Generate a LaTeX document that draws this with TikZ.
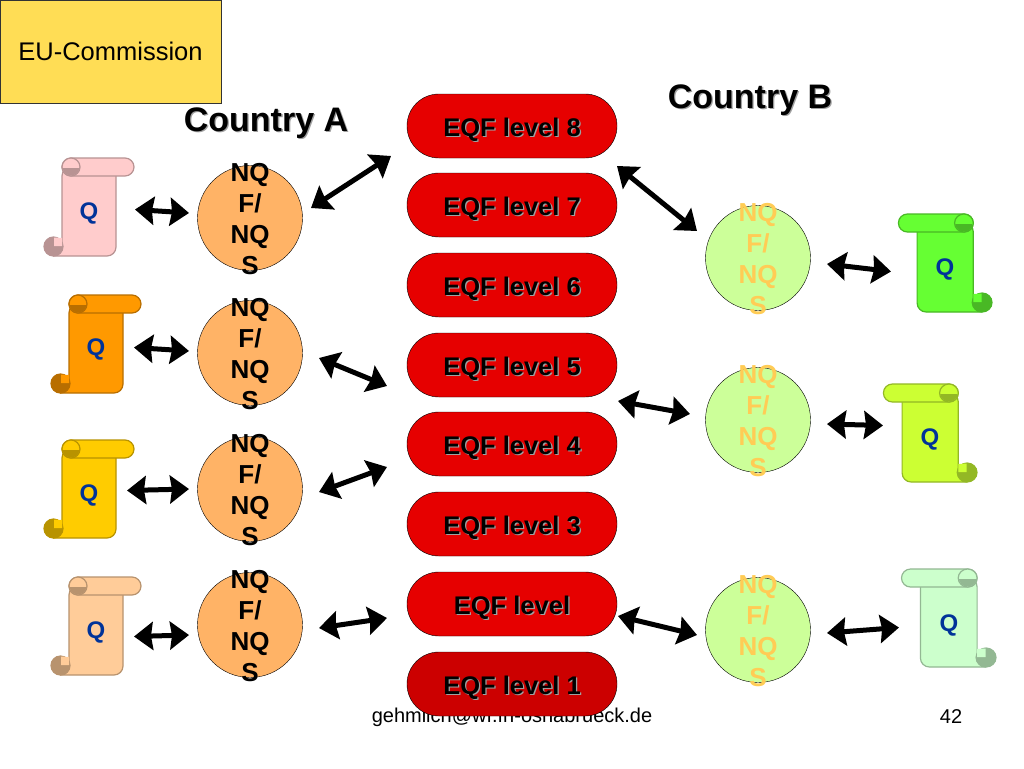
\documentclass[tikz,border=0pt]{standalone}
\usepackage{fontspec}
\setmainfont{Liberation Sans}
\usetikzlibrary{arrows.meta}

\definecolor{pillred}{HTML}{E60000}
\definecolor{pilldark}{HTML}{CC0000}
\definecolor{eubox}{HTML}{FFDD55}
\definecolor{nqorange}{HTML}{FFB366}
\definecolor{nqgreen}{HTML}{CCFF99}
\definecolor{nqfaint}{HTML}{FFCC55}
\definecolor{qblue}{HTML}{003399}
\definecolor{shadowgray}{HTML}{A0A0A0}
\definecolor{scrollpink}{HTML}{FFCCCC}
\definecolor{scrollorange}{HTML}{FF9900}
\definecolor{scrollyellow}{HTML}{FFCC00}
\definecolor{scrollpeach}{HTML}{FFCC99}
\definecolor{scrollgreen}{HTML}{66FF33}
\definecolor{scrolllime}{HTML}{CCFF33}
\definecolor{scrollmint}{HTML}{CCFFCC}

\newcommand{\shadowed}[1]{\makebox[0pt][l]{\hspace{1.3pt}\raisebox{-1.3pt}{\textcolor{shadowgray}{#1}}}#1}
\newcommand{\pilltext}[1]{\raisebox{-10pt}[0pt][0pt]{\shadowed{#1}}}
\newcommand{\nqftext}{NQ\\F/\\NQ\\S}

\tikzset{
	levelpill/.style={draw=black,fill=pillred,rounded corners=31.9pt,minimum width=210pt,minimum height=64pt,inner sep=0pt,font=\fontsize{25.5}{28}\selectfont\bfseries},
	nqfcircle/.style={circle,draw=black,fill=#1,minimum size=105pt,inner sep=0pt},
	nqflabel/.style={align=center,inner sep=0pt,text=#1,yshift=-1.5pt,font=\fontsize{26}{31}\selectfont\bfseries},
	qtext/.style={text=qblue,inner sep=0pt,yshift=-1.5pt,font=\fontsize{24}{28}\selectfont\bfseries},
	dblarrow/.style={{Stealth[length=19pt,width=28pt,inset=2pt]}-{Stealth[length=19pt,width=28pt,inset=2pt]},line width=5pt,black},
	pics/qscroll/.style={code={
		\draw[draw=#1!72!black,fill=#1,line width=1.2pt,rounded corners=9pt] (9.5,98) -- (72,98) -- (72,9) -- (18,9) -- (18,98) -- cycle;
		\draw[draw=#1!72!black,fill=#1,line width=1.2pt,rounded corners=9pt] (18,0) rectangle (90,18);
		\draw[draw=#1!72!black,fill=#1,line width=1.2pt] (27,9) circle (9);
		\begin{scope}
			\clip (27,9) circle (8.5);
			\fill[#1!72!black] (18,10) rectangle (36,18);
		\end{scope}
		\draw[draw=#1!72!black,fill=#1!72!black,line width=1.2pt] (9.5,88.5) circle (9.5);
		\fill[#1] (10,88) -- (18,88) -- (18,80) -- (10,79.5) -- cycle;
	}},
}

\begin{document}
\begin{tikzpicture}[x=1pt,y=-1pt]
	\useasboundingbox (0,0) rectangle (1024,768);
	\fill[white] (0,0) rectangle (1024,768);

	\node[font=\fontsize{20}{24}\selectfont] (mailtext) at (512,717) {gehmlich@wf.fh-osnabrueck.de};
	\node[font=\fontsize{20}{24}\selectfont] (pagenum) at (951,717) {42};

	\node[draw=black!80,fill=eubox,minimum width=221pt,minimum height=103pt,inner sep=0pt,font=\fontsize{25.5}{28}\selectfont] (eucomm) at (110.5,51.5) {EU-Commission};
	\node[font=\fontsize{34}{38}\selectfont\bfseries] (countrya) at (266,124) {\shadowed{Country A}};
	\node[font=\fontsize{34}{38}\selectfont\bfseries] (countryb) at (750,101) {\shadowed{Country B}};

	\node[levelpill] (eqf8) at (512,126) {\pilltext{EQF level 8}};
	\node[levelpill] (eqf7) at (512,205) {\pilltext{EQF level 7}};
	\node[levelpill] (eqf6) at (512,285) {\pilltext{EQF level 6}};
	\node[levelpill] (eqf5) at (512,365) {\pilltext{EQF level 5}};
	\node[levelpill] (eqf4) at (512,444) {\pilltext{EQF level 4}};
	\node[levelpill] (eqf3) at (512,524) {\pilltext{EQF level 3}};
	\node[levelpill] (eqf2) at (512,604) {\pilltext{EQF level}};
	\node[levelpill,fill=pilldark] (eqf1) at (512,684) {\pilltext{EQF level 1}};

	\node[nqfcircle=nqorange,label={[nqflabel=black]center:\nqftext}] (nqa1) at (250,218) {};
	\node[nqfcircle=nqorange,label={[nqflabel=black]center:\nqftext}] (nqa2) at (250,353) {};
	\node[nqfcircle=nqorange,label={[nqflabel=black]center:\nqftext}] (nqa3) at (250,489) {};
	\node[nqfcircle=nqorange,label={[nqflabel=black]center:\nqftext}] (nqa4) at (250,625) {};
	\node[nqfcircle=nqgreen,label={[nqflabel=nqfaint]center:\nqftext}] (nqb1) at (758,258) {};
	\node[nqfcircle=nqgreen,label={[nqflabel=nqfaint]center:\nqftext}] (nqb2) at (758,420) {};
	\node[nqfcircle=nqgreen,label={[nqflabel=nqfaint]center:\nqftext}] (nqb3) at (758,630) {};

	\pic at (44,158) {qscroll=scrollpink};
	\pic at (51,295) {qscroll=scrollorange};
	\pic at (44,440) {qscroll=scrollyellow};
	\pic at (51,577) {qscroll=scrollpeach};
	\pic[xscale=-1.04] at (992,214) {qscroll=scrollgreen};
	\pic[xscale=-1.04] at (977,384) {qscroll=scrolllime};
	\pic[xscale=-1.05] at (996,569) {qscroll=scrollmint};

	\node[qtext] (qa1) at (89,212) {Q};
	\node[qtext] (qa2) at (96,348) {Q};
	\node[qtext] (qa3) at (89,494) {Q};
	\node[qtext] (qa4) at (96,631) {Q};
	\node[qtext] (qb1) at (945,268) {Q};
	\node[qtext] (qb2) at (930,438) {Q};
	\node[qtext] (qb3) at (949,624) {Q};

	\draw[dblarrow] ([shift={(46,-4)}]qa1.center) -- ([shift={(-61,-5)}]nqa1.center);
	\draw[dblarrow] ([shift={(38,-2)}]qa2.center) -- ([shift={(-61,-2)}]nqa2.center);
	\draw[dblarrow] ([shift={(38,-5)}]qa3.center) -- ([shift={(-61,0)}]nqa3.center);
	\draw[dblarrow] ([shift={(38,4)}]qa4.center) -- ([shift={(-61,10)}]nqa4.center);

	\draw[dblarrow] ([shift={(61,-10)}]nqa1.center) -- ([shift={(-121,30)}]eqf8.center);
	\draw[dblarrow] ([shift={(69,5)}]nqa2.center) -- ([shift={(-125,21)}]eqf5.center);
	\draw[dblarrow] ([shift={(69,3)}]nqa3.center) -- ([shift={(-125,23)}]eqf4.center);
	\draw[dblarrow] ([shift={(69,3)}]nqa4.center) -- ([shift={(-125,14)}]eqf2.center);

	\draw[dblarrow] ([shift={(105,-39)}]eqf7.center) -- ([shift={(-61,-27)}]nqb1.center);
	\draw[dblarrow] ([shift={(106,36)}]eqf5.center) -- ([shift={(-68,-6)}]nqb2.center);
	\draw[dblarrow] ([shift={(106,12)}]eqf2.center) -- ([shift={(-61,5)}]nqb3.center);

	\draw[dblarrow] ([shift={(69,6)}]nqb1.center) -- ([shift={(-54,2)}]qb1.center);
	\draw[dblarrow] ([shift={(69,4)}]nqb2.center) -- ([shift={(-47,-14)}]qb2.center);
	\draw[dblarrow] ([shift={(69,3)}]nqb3.center) -- ([shift={(-50,2)}]qb3.center);
\end{tikzpicture}
\end{document}
